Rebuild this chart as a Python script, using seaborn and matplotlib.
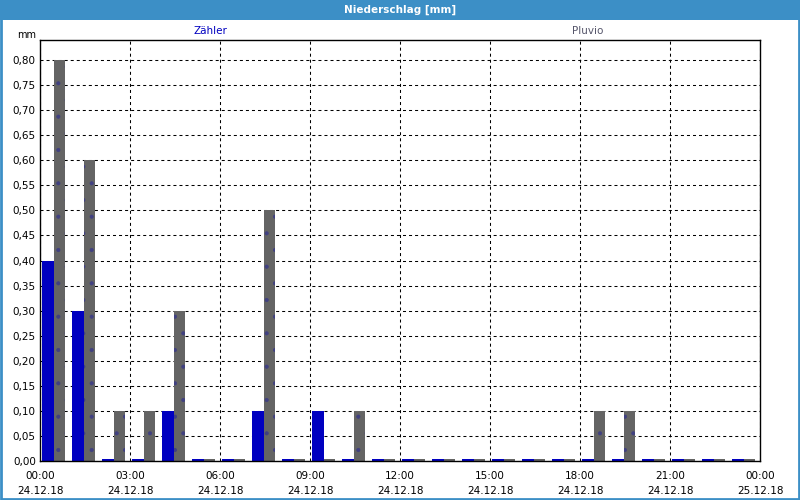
import numpy as np
import pandas as pd
import matplotlib
matplotlib.use("Agg")
import matplotlib.pyplot as plt
from matplotlib.patches import Rectangle
from matplotlib.ticker import MultipleLocator, FixedLocator, FuncFormatter
import seaborn as sns

hours = list(range(24))
zaehler = [0.40, 0.30, 0.0, 0.0, 0.10, 0.0, 0.0, 0.10, 0.0, 0.10, 0.0, 0.0,
           0.0, 0.0, 0.0, 0.0, 0.0, 0.0, 0.0, 0.0, 0.0, 0.0, 0.0, 0.0]
pluvio = [0.80, 0.60, 0.10, 0.10, 0.30, 0.0, 0.0, 0.50, 0.0, 0.0, 0.10, 0.0,
          0.0, 0.0, 0.0, 0.0, 0.0, 0.0, 0.10, 0.10, 0.0, 0.0, 0.0, 0.0]
series_names = ["Zähler", "Pluvio"]
tick_times = ["00:00", "03:00", "06:00", "09:00", "12:00", "15:00", "18:00", "21:00", "00:00"]
tick_dates = ["24.12.18"] * 8 + ["25.12.18"]

sns.set_style("white")
plt.rcParams["font.family"] = ["DejaVu Sans"]
plt.rcParams["hatch.linewidth"] = 0.5
plt.rcParams["text.color"] = "black"
plt.rcParams["xtick.color"] = "black"
plt.rcParams["ytick.color"] = "black"

df = pd.DataFrame({
    "hour": hours * 2,
    "value": zaehler + pluvio,
    "series": [series_names[0]] * 24 + [series_names[1]] * 24,
})
# zero values are displayed as a thin stub, as in the original chart
df["shown"] = np.maximum(df["value"], 0.004)

fig = plt.figure(figsize=(8, 5), dpi=100)
ax = fig.add_axes([40 / 800, 39 / 500, 720 / 800, 421 / 500])

sns.barplot(data=df, x="hour", y="shown", hue="series", order=hours,
            hue_order=series_names,
            palette={"Zähler": "#0000c0", "Pluvio": "#646464"},
            width=0.78, gap=0.0, dodge=True, saturation=1, legend=False,
            linewidth=0, ax=ax)

for bar in ax.containers[1]:
    bar.set_hatch(".")
    bar.set_edgecolor("#404080")
    bar.set_linewidth(0)

start = -0.45
ax.set_xlim(start, start + 24)
ax.set_ylim(0, 0.84)

major = [start + h for h in range(0, 25, 3)]
minor = [start + h for h in range(0, 25)]
ax.xaxis.set_major_locator(FixedLocator(major))
ax.xaxis.set_minor_locator(FixedLocator(minor))
ax.set_xticklabels([f"{t}\n{d}" for t, d in zip(tick_times, tick_dates)],
                   fontsize=7.5, linespacing=1.6)
ax.yaxis.set_major_locator(MultipleLocator(0.05))
ax.yaxis.set_major_formatter(FuncFormatter(lambda v, p: f"{v:.2f}".replace(".", ",") if v <= 0.801 else ""))
ax.tick_params(axis="y", length=0, pad=3, labelsize=7.5, labelcolor="black")
ax.tick_params(axis="x", which="both", length=3, direction="out", pad=4, color="black", labelcolor="black")
ax.set_xlabel("")
ax.set_ylabel("")

ax.grid(True, axis="both", which="major", color="black", linestyle=(0, (2.9, 2.9)), linewidth=0.75)
ax.set_axisbelow(True)
for s in ax.spines.values():
    s.set_visible(True)
    s.set_color("black")
    s.set_linewidth(1)

ax.text(-0.005, 1.0, "mm", transform=ax.transAxes, ha="right", va="bottom", fontsize=7)

# legend as coloured labels
fig.text(210 / 800, 1 - 31 / 500, series_names[0], color="#0000c0", ha="center", va="center", fontsize=7.5)
fig.text(588 / 800, 1 - 31 / 500, series_names[1], color="#55556a", ha="center", va="center", fontsize=7.5)

# title bar and frame
fig.patches.append(Rectangle((0, 1 - 20 / 500), 1, 20 / 500, transform=fig.transFigure,
                             facecolor="#3c8fc6", edgecolor="none", zorder=0))
fig.patches.append(Rectangle((0.001, 0.002), 0.998, 0.996, transform=fig.transFigure,
                             facecolor="none", edgecolor="#3c8fc6", linewidth=2, zorder=0))
fig.text(0.5, 1 - 10 / 500, "Niederschlag [mm]", color="white", fontweight="bold",
         ha="center", va="center", fontsize=7.5)

fig.savefig("out.png", dpi=100)
